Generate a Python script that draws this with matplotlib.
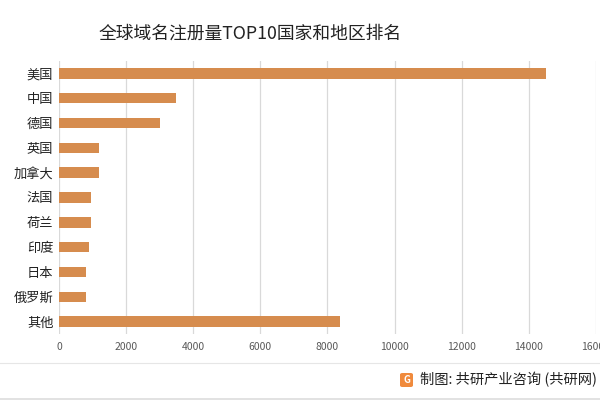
import matplotlib.pyplot as plt
from matplotlib.patches import FancyBboxPatch
from matplotlib.lines import Line2D

plt.rcParams['font.family'] = ['Noto Sans CJK SC', 'DejaVu Sans']

# data (top to bottom)
countries = ["美国", "中国", "德国", "英国", "加拿大", "法国", "荷兰", "印度", "日本", "俄罗斯", "其他"]
registrations = [14500, 3500, 3000, 1200, 1200, 950, 950, 880, 800, 800, 8380]
x_ticks = [0, 2000, 4000, 6000, 8000, 10000, 12000, 14000, 16000]

title = "全球域名注册量TOP10国家和地区排名"
source = "制图: 共研产业咨询 (共研网)"
bar_color = "#D68C4E"

fig = plt.figure(figsize=(6, 4), dpi=100)
ax = fig.add_axes([0.0983, 0.165, 0.895, 0.6825])

ypos = list(range(len(countries)))
ax.barh(ypos, registrations, height=0.42, color=bar_color, zorder=3)
ax.set_ylim(len(countries) - 0.5, -0.5)
ax.set_xlim(0, 16000)
ax.set_yticks(ypos)
ax.set_yticklabels(countries, fontsize=9.5, color="#222222")
ax.set_xticks(x_ticks)
ax.set_xticklabels([str(v) for v in x_ticks], fontsize=7.5, color="#595959")
ax.tick_params(axis="both", length=0)
ax.tick_params(axis="y", pad=4)
ax.tick_params(axis="x", pad=6)
for s in ax.spines.values():
    s.set_visible(False)
ax.grid(axis="x", color="#D9D9D9", linewidth=0.9, zorder=0)

fig.text(0.417, 0.915, title, ha="center", va="center", fontsize=12.8, color="#222222")

# footer separator and source line
fig.add_artist(Line2D([0, 1], [1 - 363 / 400, 1 - 363 / 400], color="#E6E6E6", linewidth=0.8))
fig.add_artist(Line2D([0, 1], [0.002, 0.002], color="#DDDDDD", linewidth=1.2))
logo = FancyBboxPatch((400 / 600, 1 - 387 / 400), 13 / 600, 14 / 400,
                      boxstyle="round,pad=0,rounding_size=0.004",
                      transform=fig.transFigure, facecolor="#F08A3C", edgecolor="none")
fig.add_artist(logo)
fig.text(406.5 / 600, 1 - 380 / 400, "G", ha="center", va="center", fontsize=7,
         color="white", fontweight="bold")
fig.text(0.995, 1 - 380 / 400, source, ha="right", va="center", fontsize=10.3, color="#222222")

fig.savefig("out.png", dpi=100)
